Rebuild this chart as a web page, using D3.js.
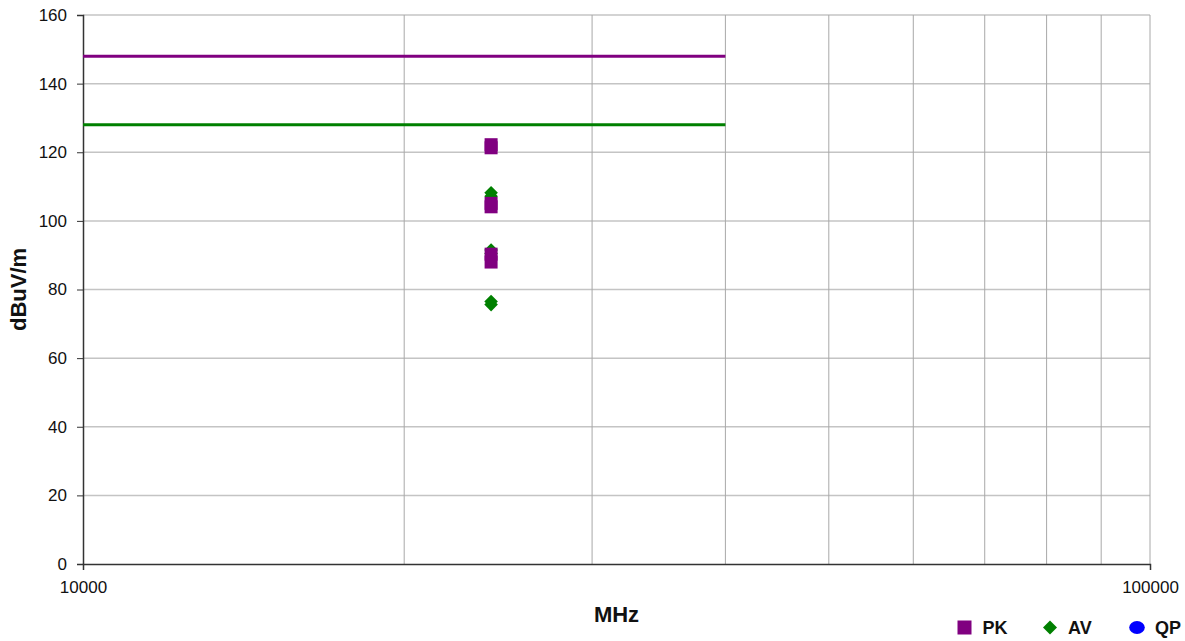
<!DOCTYPE html>
<html>
<head>
<meta charset="utf-8">
<script src="https://cdn.jsdelivr.net/npm/d3@7/dist/d3.min.js"></script>
<style>
  html, body { margin: 0; padding: 0; background: #fff; }
  svg { display: block; font-family: "Liberation Sans", Arial, sans-serif; }
</style>
</head>
<body>
<svg id="chart" width="1185" height="641"></svg>
<script>
// Frequency axis (MHz, log) and level axis (dBuV/m)
const xDomain = [10000, 100000];
const yDomain = [0, 160];
const yTicks = [0, 20, 40, 60, 80, 100, 120, 140, 160];
const xLabelTicks = [10000, 100000];
const xGridTicks = [20000, 30000, 40000, 50000, 60000, 70000, 80000, 90000, 100000];

// Limit lines
const limitFreq = [10000, 40000];
const peakLimit = [148, 148];
const avgLimit = [128, 128];

// Measured emissions
const pkFreq = [24125, 24125, 24125, 24125, 24125, 24125];
const pkLevel = [122.2, 121.3, 105.1, 104.1, 90.3, 88.0];
const avFreq = [24125, 24125, 24125, 24125, 24125, 24125];
const avLevel = [108.2, 107.2, 91.5, 90.5, 76.5, 75.6];
const qpFreq = [];
const qpLevel = [];

const legendItems = ["PK", "AV", "QP"];

const colors = { PK: "#800080", AV: "#008000", QP: "#0000ff" };

const margin = { left: 83, right: 35, top: 15, bottom: 77 };
const W = 1185, H = 641;
const svg = d3.select("#chart");

const x = d3.scaleLog().domain(xDomain).range([margin.left, W - margin.right]);
const y = d3.scaleLinear().domain(yDomain).range([H - margin.bottom, margin.top]);

// Horizontal grid
svg.append("g")
  .selectAll("line").data(yTicks.filter(d => d > 0)).join("line")
  .attr("x1", x(xDomain[0])).attr("x2", x(xDomain[1]))
  .attr("y1", d => y(d)).attr("y2", d => y(d))
  .attr("stroke", "#c4c4c4").attr("stroke-width", 1.5);

// Vertical grid
svg.append("g")
  .selectAll("line").data(xGridTicks).join("line")
  .attr("x1", d => x(d)).attr("x2", d => x(d))
  .attr("y1", y(yDomain[0])).attr("y2", y(yDomain[1]))
  .attr("stroke", "#a8a8a8").attr("stroke-width", 1);

// Axes
const yAxis = d3.axisLeft(y).tickValues(yTicks).tickSize(6).tickPadding(10).tickFormat(d3.format("d"));
const gy = svg.append("g").attr("transform", `translate(${margin.left},0)`).call(yAxis);
gy.select(".domain").attr("stroke", "#333").attr("stroke-width", 1.5);
gy.selectAll(".tick line").attr("stroke", "#333");
gy.selectAll(".tick text").attr("font-size", 17).attr("fill", "#111")
  .attr("font-family", "Liberation Sans, Arial, sans-serif");

const xAxis = d3.axisBottom(x).tickValues(xLabelTicks).tickSize(6).tickPadding(11).tickFormat(d3.format("d"));
const gx = svg.append("g").attr("transform", `translate(0,${y(0)})`).call(xAxis);
gx.select(".domain").attr("stroke", "#333").attr("stroke-width", 1.5);
gx.selectAll(".tick line").attr("stroke", "#333");
gx.selectAll(".tick text").attr("font-size", 17).attr("fill", "#111")
  .attr("font-family", "Liberation Sans, Arial, sans-serif");

// Axis titles
svg.append("text")
  .attr("x", (x(xDomain[0]) + x(xDomain[1])) / 2).attr("y", 622)
  .attr("text-anchor", "middle").attr("font-size", 22).attr("font-weight", "bold")
  .attr("fill", "#111").text("MHz");

svg.append("text")
  .attr("transform", `translate(26,${(y(0) + y(160)) / 2}) rotate(-90)`)
  .attr("text-anchor", "middle").attr("font-size", 22).attr("font-weight", "bold")
  .attr("fill", "#111").text("dBuV/m");

// Limit lines
const line = d3.line().x(d => x(d[0])).y(d => y(d[1]));
svg.append("path").datum(limitFreq.map((f, i) => [f, peakLimit[i]]))
  .attr("d", line).attr("fill", "none").attr("stroke", colors.PK).attr("stroke-width", 3);
svg.append("path").datum(limitFreq.map((f, i) => [f, avgLimit[i]]))
  .attr("d", line).attr("fill", "none").attr("stroke", colors.AV).attr("stroke-width", 3);

// Markers
function diamondPath(s) {
  return `M0,${-s}L${s},0L0,${s}L${-s},0Z`;
}

svg.append("g").selectAll("circle").data(qpFreq.map((f, i) => [f, qpLevel[i]])).join("circle")
  .attr("cx", d => x(d[0])).attr("cy", d => y(d[1])).attr("r", 6.5).attr("fill", colors.QP);

svg.append("g").selectAll("path").data(avFreq.map((f, i) => [f, avLevel[i]])).join("path")
  .attr("transform", d => `translate(${x(d[0])},${y(d[1])})`)
  .attr("d", diamondPath(6.8)).attr("fill", colors.AV);

svg.append("g").selectAll("rect").data(pkFreq.map((f, i) => [f, pkLevel[i]])).join("rect")
  .attr("x", d => x(d[0]) - 6.5).attr("y", d => y(d[1]) - 6.5)
  .attr("width", 13).attr("height", 13).attr("fill", colors.PK);

// Legend
const legendX = [964.5, 1050, 1137];
const lg = svg.append("g");
legendItems.forEach((name, i) => {
  const cx = legendX[i], cy = 627.5;
  if (name === "PK") {
    lg.append("rect").attr("x", cx - 7).attr("y", cy - 7).attr("width", 14).attr("height", 14).attr("fill", colors.PK);
  } else if (name === "AV") {
    lg.append("path").attr("transform", `translate(${cx},${cy})`).attr("d", diamondPath(7)).attr("fill", colors.AV);
  } else {
    lg.append("ellipse").attr("cx", cx).attr("cy", cy).attr("rx", 7.8).attr("ry", 6.5).attr("fill", colors.QP);
  }
  lg.append("text").attr("x", cx + 18).attr("y", 634).attr("font-size", 18).attr("font-weight", "bold")
    .attr("fill", "#111").text(name);
});
</script>
</body>
</html>
